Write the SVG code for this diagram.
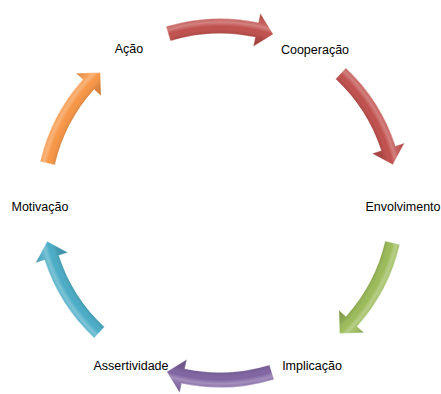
<svg xmlns="http://www.w3.org/2000/svg" xmlns:xlink="http://www.w3.org/1999/xlink" width="441" height="394" viewBox="0 0 441 394">
  <style>
    .lbl { font-family: "Liberation Sans", Arial, sans-serif; font-size: 12.5px; fill: #000; text-anchor: middle; }
    .edge { stroke: #ffffff; stroke-opacity: 0.4; stroke-width: 0.8; }
  </style>
  <defs>
    <path id="arrow" d="M 166.05,26.56 A 184.5 184.5 0 0 1 258.36,22.54 L 260.33,13.25 L 273.23,34.20 L 253.26,46.50 L 255.24,37.21 A 169.5 169.5 0 0 0 170.44,40.91 Z"/>
    <radialGradient id="shade" gradientUnits="userSpaceOnUse" cx="220" cy="203" r="194">
      <stop offset="0.82" stop-color="#000" stop-opacity="0.2"/>
      <stop offset="0.875" stop-color="#000" stop-opacity="0.1"/>
      <stop offset="0.91" stop-color="#fff" stop-opacity="0.0"/>
      <stop offset="0.932" stop-color="#fff" stop-opacity="0.28"/>
      <stop offset="0.95" stop-color="#fff" stop-opacity="0.1"/>
      <stop offset="1" stop-color="#000" stop-opacity="0.15"/>
    </radialGradient>
  </defs>
  <rect width="441" height="394" fill="#fff"/>
  <g id="connectors">
    <g id="arrow-acao-cooperacao" fill="#C0504D">
      <use xlink:href="#arrow"/>
      <use xlink:href="#arrow" fill="url(#shade)" class="edge"/>
    </g>
    <g id="arrow-cooperacao-envolvimento" fill="#C0504D" transform="rotate(60 220 203)">
      <use xlink:href="#arrow"/>
      <use xlink:href="#arrow" fill="url(#shade)" class="edge"/>
    </g>
    <g id="arrow-envolvimento-implicacao" fill="#9BBB59" transform="rotate(120 220 203)">
      <use xlink:href="#arrow"/>
      <use xlink:href="#arrow" fill="url(#shade)" class="edge"/>
    </g>
    <g id="arrow-implicacao-assertividade" fill="#8064A2" transform="rotate(180 220 203)">
      <use xlink:href="#arrow"/>
      <use xlink:href="#arrow" fill="url(#shade)" class="edge"/>
    </g>
    <g id="arrow-assertividade-motivacao" fill="#4BACC6" transform="rotate(240 220 203)">
      <use xlink:href="#arrow"/>
      <use xlink:href="#arrow" fill="url(#shade)" class="edge"/>
    </g>
    <g id="arrow-motivacao-acao" fill="#F79646" transform="rotate(300 220 203)">
      <use xlink:href="#arrow"/>
      <use xlink:href="#arrow" fill="url(#shade)" class="edge"/>
    </g>
  </g>
  <g id="node-acao"><text class="lbl" x="129" y="53">Ação</text></g>
  <g id="node-cooperacao"><text class="lbl" x="315" y="54">Cooperação</text></g>
  <g id="node-envolvimento"><text class="lbl" x="403" y="211">Envolvimento</text></g>
  <g id="node-implicacao"><text class="lbl" x="312" y="370">Implicação</text></g>
  <g id="node-assertividade"><text class="lbl" x="131" y="370">Assertividade</text></g>
  <g id="node-motivacao"><text class="lbl" x="40" y="211">Motivação</text></g>
</svg>
